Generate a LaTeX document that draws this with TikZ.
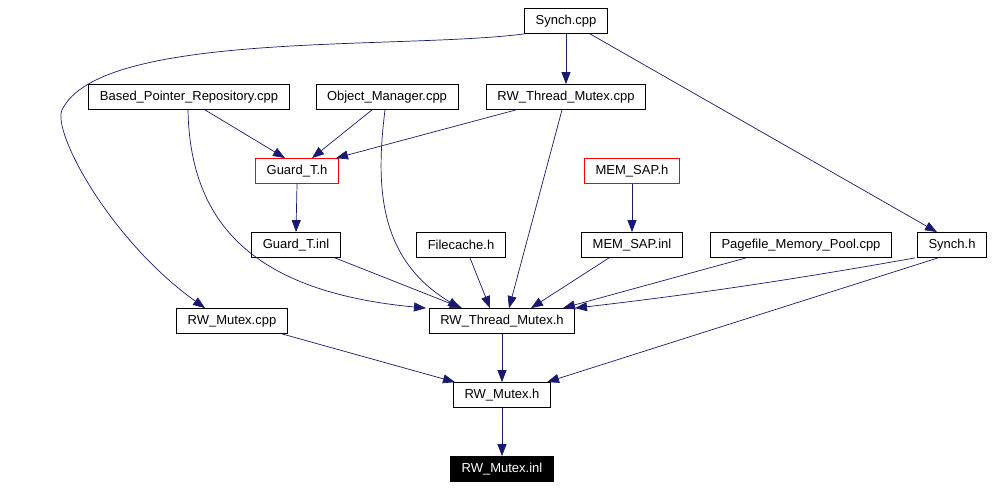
\documentclass[tikz,border=0pt]{standalone}
\usepackage{fontspec}
\setmainfont{Liberation Sans}
\usetikzlibrary{arrows.meta}
\definecolor{edgeblue}{RGB}{25,25,112}
\tikzset{
    file/.style={draw=black, line width=0.8pt, fill=white, inner xsep=11pt, minimum height=25pt, font=\fontsize{13}{15}\selectfont},
    redfile/.style={file, draw=red},
    topfile/.style={file, draw=black, fill=black, text=white},
    edge/.style={draw=edgeblue, line width=0.7pt, -{Triangle[length=12pt,width=9pt]}}
}
\begin{document}
\begin{tikzpicture}[x=1pt,y=-1pt]
        \useasboundingbox (0,0) rectangle (994,490);
        % Archivos
        \node[file] (synchcpp) at (566,21) {Synch.cpp};
        \node[file] (basedcpp) at (189,97) {Based\_Pointer\_Repository.cpp};
        \node[file] (objmgrcpp) at (387,97) {Object\_Manager.cpp};
        \node[file] (rwtmcpp) at (566,97) {RW\_Thread\_Mutex.cpp};
        \node[redfile] (guardh) at (297,171) {Guard\_T.h};
        \node[redfile] (memsaph) at (632,171) {MEM\_SAP.h};
        \node[file] (guardinl) at (296,245) {Guard\_T.inl};
        \node[file] (filecacheh) at (461,245) {Filecache.h};
        \node[file] (memsapinl) at (632,245) {MEM\_SAP.inl};
        \node[file] (pagefilecpp) at (801,245) {Pagefile\_Memory\_Pool.cpp};
        \node[file] (synchh) at (952,245) {Synch.h};
        \node[file] (rwmutexcpp) at (232,321) {RW\_Mutex.cpp};
        \node[file] (rwtmh) at (502,321) {RW\_Thread\_Mutex.h};
        \node[file] (rwmutexh) at (502,395) {RW\_Mutex.h};
        \node[topfile] (rwmutexinl) at (502,469) {RW\_Mutex.inl};
        
        % Dependencias verticales
        \foreach \a/\b in {synchcpp/rwtmcpp,guardh/guardinl,memsaph/memsapinl,rwtmh/rwmutexh,rwmutexh/rwmutexinl} {
            \draw[edge] (\a.south) -- (\b.north);
        }
        
        % Dependencias rectas
        \draw[edge] ([xshift=24]synchcpp.south) -- ([xshift=-15]synchh.north);
        \draw[edge] ([xshift=16]basedcpp.south) -- ([xshift=-12]guardh.north);
        \draw[edge] ([xshift=-15]objmgrcpp.south) -- ([xshift=15]guardh.north);
        \draw[edge] ([xshift=-50]rwtmcpp.south) -- ([xshift=39]guardh.north);
        \draw[edge] ([xshift=-4]rwtmcpp.south) -- ([xshift=7]rwtmh.north);
        \draw[edge] ([xshift=39]guardinl.south) -- ([xshift=-40]rwtmh.north);
        \draw[edge] ([xshift=9]filecacheh.south) -- ([xshift=-12]rwtmh.north);
        \draw[edge] ([xshift=-23]memsapinl.south) -- ([xshift=29]rwtmh.north);
        \draw[edge] ([xshift=-55]pagefilecpp.south) -- ([xshift=61]rwtmh.north);
        \draw[edge] ([xshift=-14]synchh.south) -- ([xshift=45]rwmutexh.north);
        \draw[edge] ([xshift=50]rwmutexcpp.south) -- ([xshift=-47]rwmutexh.north);
        
        % Dependencias curvas
        \draw[edge] (synchcpp.south west) .. controls (400,50) and (100,30) .. (62,110)
            .. controls (52,132) and (110,240) .. ([xshift=-27]rwmutexcpp.north);
        \draw[edge] ([xshift=-1]basedcpp.south) .. controls (190,225) and (255,292) .. ([xshift=-76]rwtmh.north);
        \draw[edge] ([xshift=-2]objmgrcpp.south) .. controls (375,190) and (380,260) .. ([xshift=-42]rwtmh.north);
        \draw[edge] ([xshift=-37]synchh.south) .. controls (780,282) and (680,296) .. ([xshift=73]rwtmh.north);
    \end{tikzpicture}
\end{document}
